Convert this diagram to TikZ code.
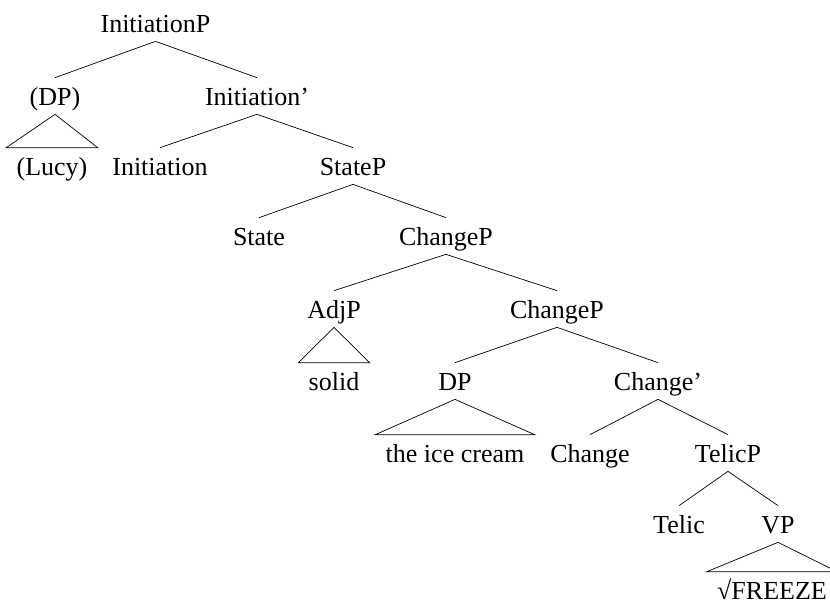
\documentclass[tikz,border=0pt]{standalone}
\usepackage{fontspec}
\setmainfont{Liberation Serif}
\usetikzlibrary{calc}

\begin{document}
\begin{tikzpicture}[x=1pt, y=-1pt, line width=0.7pt,
        lbl/.style={anchor=base, inner xsep=10pt, inner ysep=4pt,
            text height=23pt, text depth=5pt, font=\fontsize{26}{30}\selectfont}]
        \useasboundingbox (0,0) rectangle (830,608);

        % Draw the upper part
        \node[lbl] (initp) at (155.5, 32) {InitiationP};
        \node[lbl] (dp1) at (55, 105) {(DP)};
        \node[lbl] (initbar) at (257, 105) {Initiation'};
        \node[lbl] (lucy) at (52, 175) {(Lucy)};
        \node[lbl] (init) at (160, 175) {Initiation};
        \node[lbl] (statep) at (353, 175) {StateP};

        % Draw the middle part
        \node[lbl] (state) at (259, 245) {State};
        \node[lbl] (changep1) at (446, 245) {ChangeP};
        \node[lbl] (adjp) at (334, 318) {AdjP};
        \node[lbl] (changep2) at (557, 318) {ChangeP};
        \node[lbl] (solid) at (334, 390) {solid};
        \node[lbl] (dp2) at (455, 390) {DP};
        \node[lbl] (changebar) at (658, 390) {Change'};

        % Draw the lower part
        \node[lbl] (icecream) at (455, 462) {the ice cream};
        \node[lbl] (change) at (590, 462) {Change};
        \node[lbl] (telicp) at (728, 462) {TelicP};
        \node[lbl] (telic) at (679, 533) {Telic};
        \node[lbl] (vp) at (778, 533) {VP};
        \node[lbl] (freeze) at (772, 599) {√FREEZE};

        % Draw branches
        \foreach \i/\j in {initp/dp1, initp/initbar, initbar/init, initbar/statep,
                statep/state, statep/changep1, changep1/adjp, changep1/changep2,
                changep2/dp2, changep2/changebar, changebar/change, changebar/telicp,
                telicp/telic, telicp/vp} {
            \draw (\i.south) -- (\j.north);
        }

        % Draw the triangles
        \foreach \i/\j in {dp1/lucy, adjp/solid, dp2/icecream, vp/freeze} {
            \draw (\i.south) -- (\j.north west) -- (\j.north east) -- cycle;
        }
    \end{tikzpicture}
\end{document}
